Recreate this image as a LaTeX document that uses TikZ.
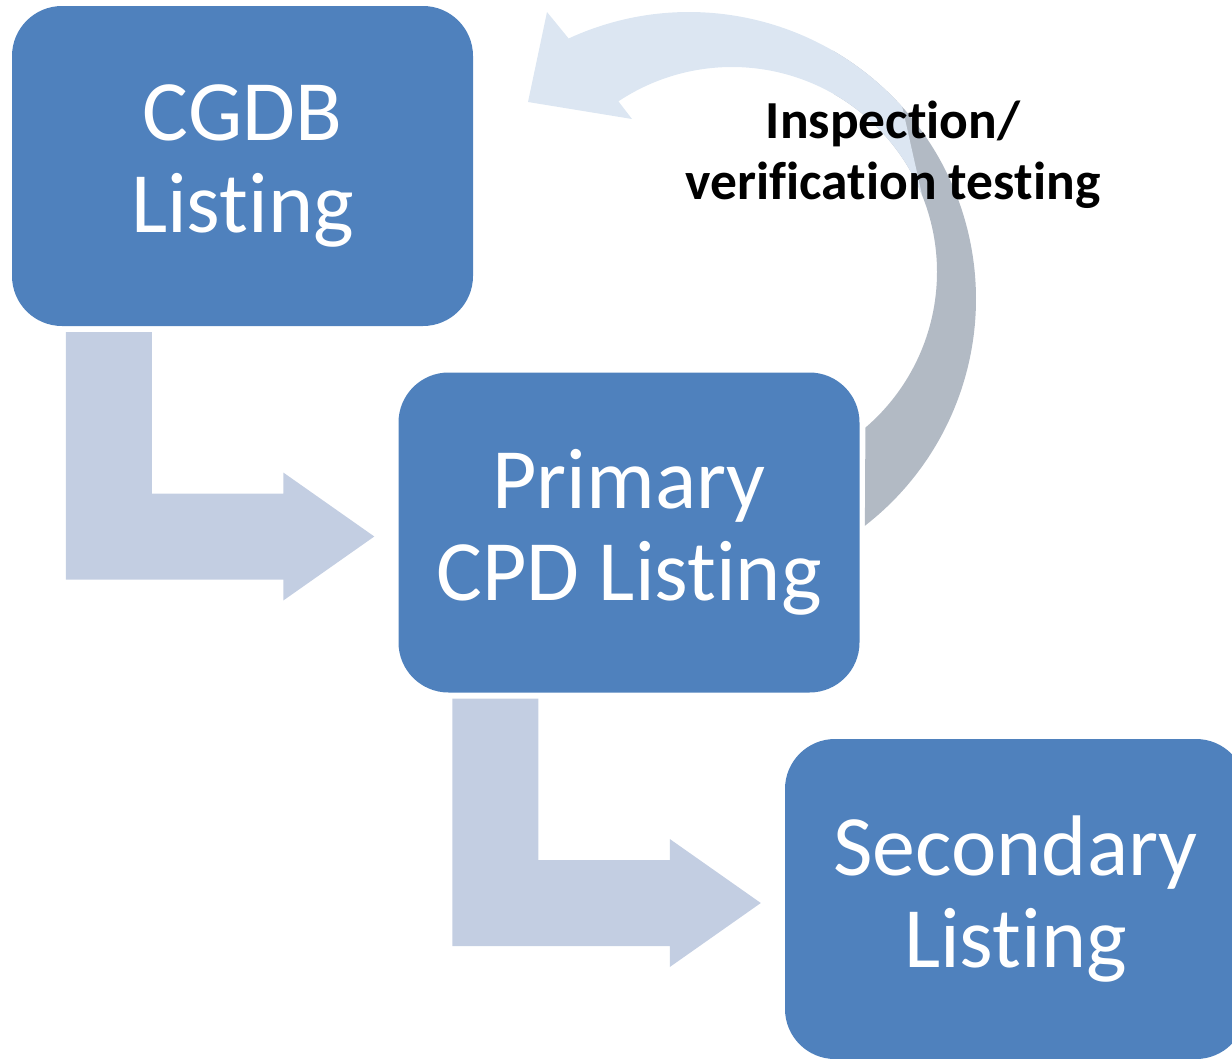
\documentclass[tikz,border=0pt]{standalone}
\usepackage{fontspec}
\setmainfont{Carlito}[Ligatures=NoCommon]
\usetikzlibrary{calc}
\definecolor{boxblue}{HTML}{4F81BD}
\definecolor{flowblue}{HTML}{C3CEE2}
\definecolor{bandlight}{HTML}{DCE6F2}
\definecolor{bandgray}{HTML}{B2BAC4}

\begin{document}
\begin{tikzpicture}[x=1pt, y=1pt,
    main/.style = {fill=boxblue, rounded corners=50pt, minimum width=461pt, minimum height=320pt,
        inner sep=0pt, text=white, align=center, font=\fontsize{86}{92}\selectfont,
        execute at begin node=\rule{0pt}{66pt}},
    flow/.style = {fill=flowblue},
    note/.style = {align=center, font=\fontsize{53.5}{61}\selectfont\bfseries}]
\useasboundingbox (0,0) rectangle (1232,-1058);
\clip (0,0) rectangle (1232,-1058);

\coordinate (oc) at (689,-299);
\coordinate (ic) at (732,-272);
\fill[bandgray] ($(oc)+(-52.2:287pt)$) arc[start angle=-52.2, end angle=60, radius=287pt]
    -- ($(ic)+(60:205pt)$) arc[start angle=60, end angle=-49.4, radius=205pt] -- cycle;
\fill[bandlight] ($(oc)+(42:287pt)$) arc[start angle=42, end angle=114.8, radius=287pt]
    -- (547,-12) -- (528,-102) -- (632,-119) -- (612,-93)
    -- ($(ic)+(124:205pt)$) arc[start angle=124, end angle=22, radius=205pt] -- cycle;

\node[main] (cgdb) at (242.5,-166) {CGDB\\Listing};
\node[main] (primary) at (629,-532.5) {Primary\\CPD Listing};
\node[main] (secondary) at (1015.5,-899) {Secondary\\Listing};
\node[note] (test) at (893,-155) {Inspection/\\verification testing};

\foreach \a/\b in {cgdb/primary, primary/secondary}
    \fill[flow] let \p1 = ($(\a.south west)+(54,-6)$), \p2 = ($(\b.west)+(-24,-4)$) in
        (\x1,\y1) -- (\x1+86pt,\y1) -- (\x1+86pt,\y2+43pt) -- (\x2-91pt,\y2+43pt) -- (\x2-91pt,\y2+64pt)
        -- (\x2,\y2) -- (\x2-91pt,\y2-64pt) -- (\x2-91pt,\y2-43pt) -- (\x1,\y2-43pt) -- cycle;
\end{tikzpicture}
\end{document}
